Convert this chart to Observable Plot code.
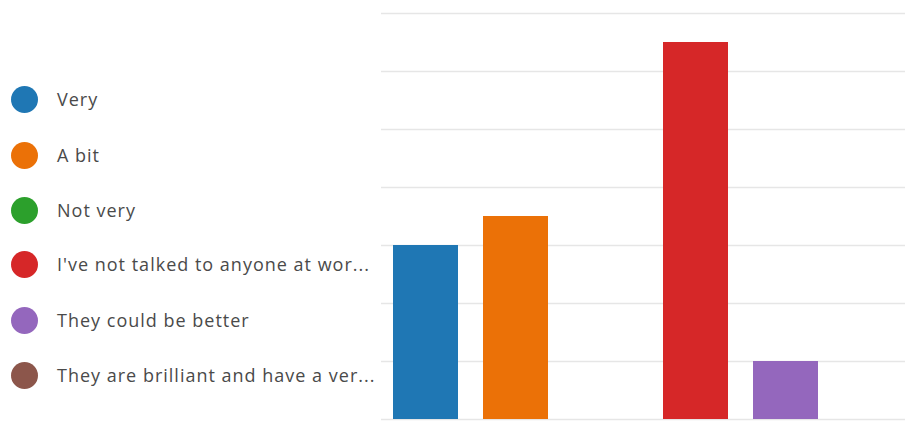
<!DOCTYPE html>
<html>
<head>
<meta charset="utf-8">
<script src="https://cdn.jsdelivr.net/npm/d3@7"></script>
<script src="https://cdn.jsdelivr.net/npm/@observablehq/plot@0.6"></script>
<style>
  html, body { margin: 0; padding: 0; background: #fff; }
  #wrap { position: relative; width: 905px; height: 424px; overflow: hidden; }
  #chart { position: absolute; left: 0; top: 0; }
  #legend { position: absolute; left: 0; top: 0; width: 378px; font-family: "Open Sans", sans-serif; font-size: 18px; letter-spacing: 1px; color: #4a4a4a; }
  .item { position: absolute; left: 11px; height: 28px; display: flex; align-items: center; white-space: nowrap; }
  .dot { width: 27px; height: 27px; border-radius: 50%; margin-right: 19px; flex: none; }
</style>
</head>
<body>
<div id="wrap">
  <div id="chart"></div>
  <div id="legend"></div>
</div>
<script>
const categories = [
  "Very",
  "A bit",
  "Not very",
  "I've not talked to anyone at wor...",
  "They could be better",
  "They are brilliant and have a ver..."
];
const counts = [6, 7, 0, 13, 2, 0];
const colors = ["#1f77b4", "#eb7107", "#2ca02c", "#d62728", "#9467bd", "#8c564b"];
const yTicks = [0, 2, 4, 6, 8, 10, 12, 14];

const data = categories.map((c, i) => ({category: c, count: counts[i]}));

const plot = Plot.plot({
  width: 905,
  height: 424,
  marginLeft: 381,
  marginRight: 0,
  marginTop: 13,
  marginBottom: 5,
  x: {domain: categories, range: [378.5, 921.5], paddingInner: 0.278, paddingOuter: 0.139, axis: null},
  y: {domain: [0, 14], axis: null},
  color: {domain: categories, range: colors},
  marks: [
    Plot.ruleY(yTicks, {stroke: "#e6e6e6", strokeWidth: 1.5, strokeOpacity: 1}),
    Plot.barY(data, {x: "category", y: "count", fill: "category"})
  ]
});
document.getElementById("chart").appendChild(plot);

const legend = document.getElementById("legend");
const centers = [99, 155, 210, 264, 320, 375];
categories.forEach((c, i) => {
  const item = document.createElement("div");
  item.className = "item";
  item.style.top = (centers[i] - 14) + "px";
  const dot = document.createElement("span");
  dot.className = "dot";
  dot.style.background = colors[i];
  const label = document.createElement("span");
  label.textContent = c;
  item.appendChild(dot);
  item.appendChild(label);
  legend.appendChild(item);
});
</script>
</body>
</html>
